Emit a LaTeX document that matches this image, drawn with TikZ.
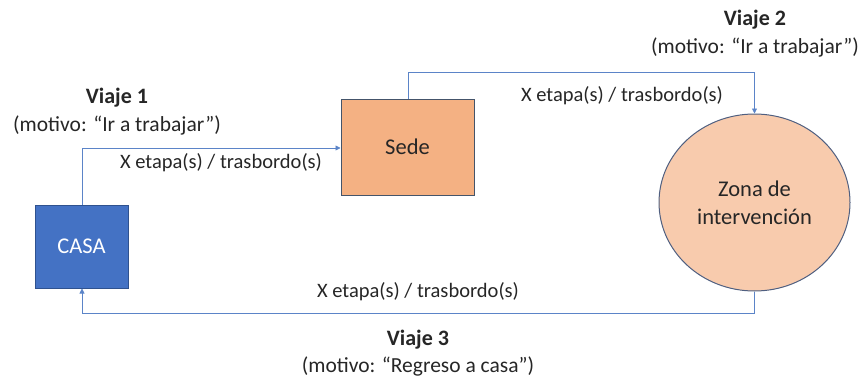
\documentclass[tikz,border=0pt]{standalone}
\usepackage{fontspec}
\setmainfont{Carlito}
\usetikzlibrary{arrows.meta,shapes.geometric}
\definecolor{casafill}{HTML}{4472C4}
\definecolor{casaline}{HTML}{2F528F}
\definecolor{sedefill}{HTML}{F4B183}
\definecolor{sedeline}{HTML}{44546A}
\definecolor{zonafill}{HTML}{F8CBAD}
\definecolor{zonaline}{HTML}{4F5F80}
\definecolor{conn}{HTML}{5B84C8}
\begin{document}
\begin{tikzpicture}[x=1pt,y=-1pt,
  lbl/.style={font=\fontsize{20.5}{24}\selectfont, text=black!85, inner sep=0pt},
  mot/.style={font=\fontsize{21.5}{25}\selectfont, text=black!85, inner sep=0pt},
  ttl/.style={font=\fontsize{22}{26}\selectfont\bfseries, text=black!85, inner sep=0pt},
  conn/.style={draw=conn, line width=0.8pt, -{Triangle[length=5pt,width=5pt]}},
  box/.style={draw, line width=1pt, inner sep=0pt}]
\useasboundingbox (0,0) rectangle (864,380);
\node[box, fill=casafill, draw=casaline, minimum width=93pt, minimum height=83pt, text=white, font=\fontsize{22.5}{26}\selectfont] (casa) at (81.5,246.5) {CASA};
\node[box, fill=sedefill, draw=sedeline, minimum width=133pt, minimum height=96pt, text=black!85, font=\fontsize{22.5}{26}\selectfont] (sede) at (407.5,147) {Sede};
\node[box, ellipse, fill=zonafill, draw=zonaline, minimum width=191pt, minimum height=177pt, align=center, text=black!85, font=\fontsize{22.5}{28}\selectfont] (zona) at (754.5,202.5) {Zona de\\intervención};
\coordinate (c1) at (82,148);
\coordinate (c2a) at (408,72);
\coordinate (c2b) at (754.5,72);
\coordinate (c3a) at (754.5,313);
\coordinate (c3b) at (82,313);
\draw[conn] (casa.north -| c1) -- (c1) -- (c1 -| sede.west);
\draw[conn] (sede.north -| c2a) -- (c2a) -- (c2b) -- (zona.north);
\draw[conn] (zona.south) -- (c3a) -- (c3b) -- (casa.south -| c3b);
\node[lbl] (l1) at (221,163) {X etapa(s) / trasbordo(s)};
\node[lbl] (l2) at (622,96) {X etapa(s) / trasbordo(s)};
\node[lbl] (l3) at (418,292) {X etapa(s) / trasbordo(s)};
\node[ttl] (v1) at (117,98) {Viaje 1};
\node[mot] (m1) at (117,125) {(motivo: “Ir a trabajar”)};
\node[ttl] (v2) at (755,20) {Viaje 2};
\node[mot] (m2) at (755,47) {(motivo: “Ir a trabajar”)};
\node[ttl] (v3) at (418,340) {Viaje 3};
\node[mot] (m3) at (418,366) {(motivo: “Regreso a casa”)};
\end{tikzpicture}
\end{document}
